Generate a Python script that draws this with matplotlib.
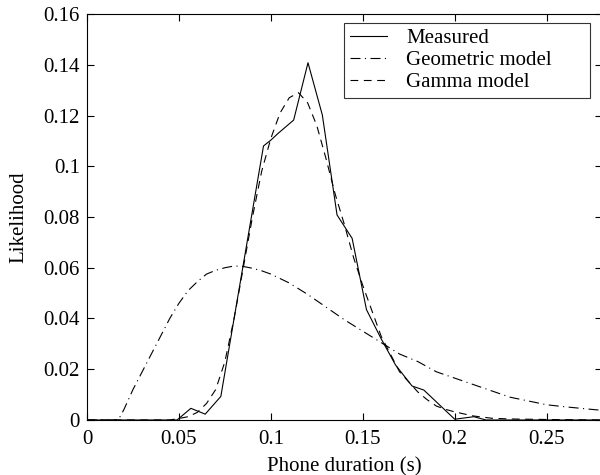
import numpy as np
import matplotlib
matplotlib.use("Agg")
import matplotlib.pyplot as plt

plt.rcParams['font.family'] = ['Liberation Serif', 'DejaVu Serif']

# Measured likelihood
meas_x = [0.0, 0.049, 0.0565, 0.0643, 0.0728, 0.080, 0.088, 0.096, 0.100, 0.104,
          0.1124, 0.1202, 0.128, 0.136, 0.1442, 0.152, 0.160, 0.1678, 0.1768,
          0.1832, 0.200, 0.2104, 0.217, 0.28]
meas_y = [0.0, 0.0, 0.0046, 0.0023, 0.0093, 0.040, 0.074, 0.108, 0.1103, 0.113,
          0.1182, 0.1408, 0.1202, 0.0808, 0.0716, 0.0435, 0.0320, 0.0217, 0.0134,
          0.0118, 0.0003, 0.0013, 0.0, 0.0]

# Geometric model
geo_x = [0.0, 0.017, 0.02, 0.025, 0.03, 0.035, 0.04, 0.045, 0.05, 0.055, 0.06,
         0.065, 0.07, 0.075, 0.08, 0.085, 0.09, 0.095, 0.10, 0.11, 0.12, 0.13,
         0.14, 0.15, 0.16, 0.17, 0.18, 0.19, 0.20, 0.21, 0.22, 0.23, 0.24, 0.25,
         0.26, 0.27, 0.28]
geo_y = [0.0, 0.0, 0.004, 0.012, 0.019, 0.026, 0.033, 0.040, 0.046, 0.051, 0.0545,
         0.0575, 0.059, 0.060, 0.0607, 0.0605, 0.0598, 0.0588, 0.0575, 0.054,
         0.0495, 0.0445, 0.0395, 0.035, 0.0305, 0.026, 0.023, 0.019, 0.0165,
         0.014, 0.0115, 0.009, 0.0075, 0.006, 0.0052, 0.0045, 0.0038]

# Gamma model
gam_x = [0.0, 0.045, 0.05, 0.055, 0.06, 0.065, 0.07, 0.075, 0.08, 0.085, 0.09,
         0.095, 0.10, 0.105, 0.11, 0.115, 0.12, 0.125, 0.13, 0.135, 0.14, 0.145,
         0.15, 0.155, 0.16, 0.165, 0.17, 0.175, 0.18, 0.185, 0.19, 0.195, 0.20,
         0.21, 0.22, 0.23, 0.25, 0.28]
gam_y = [0.0, 0.0, 0.0006, 0.0013, 0.003, 0.0065, 0.012, 0.023, 0.040, 0.060,
         0.080, 0.098, 0.111, 0.121, 0.127, 0.129, 0.125, 0.116, 0.103, 0.089,
         0.077, 0.064, 0.053, 0.043, 0.033, 0.026, 0.019, 0.015, 0.011, 0.008,
         0.0055, 0.0042, 0.0032, 0.0016, 0.0007, 0.0004, 0.0002, 0.0]

x_ticks = [0, 0.05, 0.1, 0.15, 0.2, 0.25]
x_labels = ['0', '0.05', '0.1', '0.15', '0.2', '0.25']
y_ticks = [0, 0.02, 0.04, 0.06, 0.08, 0.1, 0.12, 0.14, 0.16]
y_labels = ['0', '0.02', '0.04', '0.06', '0.08', '0.1', '0.12', '0.14', '0.16']

fig = plt.figure(figsize=(6, 4.75), dpi=100)
ax = fig.add_axes([0.145, 0.1158, 0.858, 0.8547])

lw = 0.8
ax.plot(meas_x, meas_y, color='black', lw=lw, linestyle='-', label='Measured')
ax.plot(geo_x, geo_y, color='black', lw=lw, linestyle=(0, (9, 4, 1, 4)),
        label='Geometric model')
ax.plot(gam_x, gam_y, color='black', lw=lw, linestyle=(0, (7, 5)),
        label='Gamma model')

ax.set_xlim(0, 0.28)
ax.set_ylim(0, 0.16)
ax.set_xticks(x_ticks)
ax.set_xticklabels(x_labels)
ax.set_yticks(y_ticks)
ax.set_yticklabels(y_labels)
fs = 15
ax.tick_params(direction='in', top=True, right=True, length=5, width=0.8,
               labelsize=fs)
ax.tick_params(axis='x', pad=7)
ax.tick_params(axis='y', pad=5)
for s in ax.spines.values():
    s.set_linewidth(0.8)

ax.set_xlabel('Phone duration (s)', fontsize=fs, labelpad=6)
ax.set_ylabel('Likelihood', fontsize=fs, labelpad=11)

# MATLAB-style legend box stretched to its fixed width
leg = ax.legend(loc='upper left', bbox_to_anchor=(0.499, 0.0, 0.478, 0.9786),
                mode='expand', fontsize=fs,
                frameon=True, fancybox=False, edgecolor='black',
                handlelength=1.8, borderpad=0.28, labelspacing=0.12,
                handletextpad=0.9, borderaxespad=0.0)
leg.get_frame().set_linewidth(0.8)

fig.savefig('out.png', dpi=100)
